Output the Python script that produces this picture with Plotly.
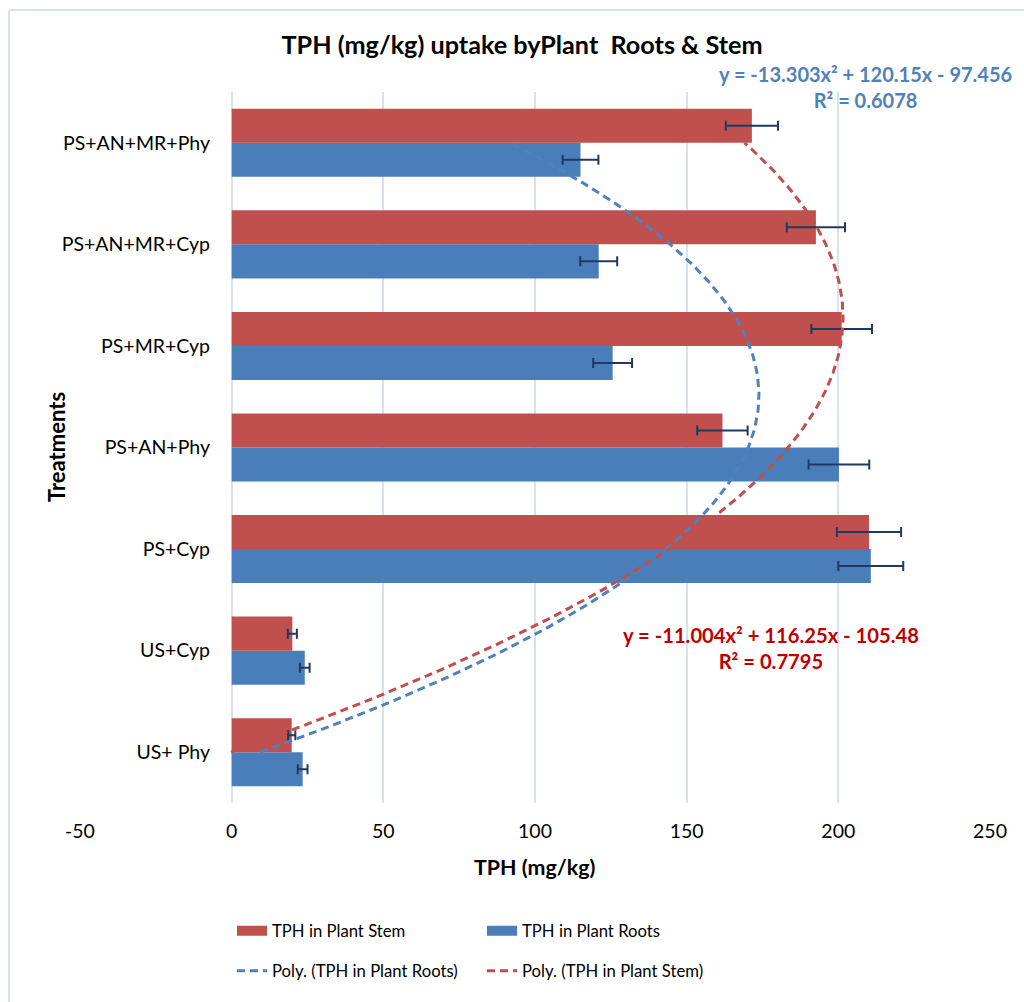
import numpy as np
import plotly.graph_objects as go

# ---------------- data ----------------
categories = ["US+ Phy", "US+Cyp", "PS+Cyp", "PS+AN+Phy", "PS+MR+Cyp", "PS+AN+MR+Cyp", "PS+AN+MR+Phy"]
stem_values = [19.8, 20.0, 210.1, 161.8, 201.1, 192.6, 171.5]
roots_values = [23.4, 24.1, 210.7, 200.2, 125.6, 121.0, 115.0]
stem_errors = [1.2, 1.5, 10.6, 8.3, 10.0, 9.6, 8.6]
roots_errors = [1.6, 1.6, 10.7, 10.0, 6.4, 6.1, 5.9]

# Excel polynomial trendline coefficients (a, b, c) shown on the chart
roots_poly = [-13.303, 120.15, -97.456]
stem_poly = [-11.004, 116.25, -105.48]
roots_r2 = "0.6078"
stem_r2 = "0.7795"

x_ticks = [-50, 0, 50, 100, 150, 200, 250]

# ---------------- style ----------------
FONT = "Lato"
RED = "#C0504D"
BLUE = "#4A7EBB"
ERR = "#1F3864"
GRID = "#D9E3F0"

pos = list(range(1, len(categories) + 1))

fig = go.Figure()

fig.add_trace(go.Bar(
    y=pos, x=roots_values, orientation="h", name="TPH in Plant Roots",
    marker=dict(color=BLUE, line=dict(width=0)), showlegend=False,
    error_x=dict(type="data", array=roots_errors, color=ERR, thickness=2, width=5),
))
fig.add_trace(go.Bar(
    y=pos, x=stem_values, orientation="h", name="TPH in Plant Stem",
    marker=dict(color=RED, line=dict(width=0)), showlegend=False,
    error_x=dict(type="data", array=stem_errors, color=ERR, thickness=2, width=5),
))

# trendlines over category index 1..7
t = np.linspace(1, len(categories), 200)
roots_fit = np.polyval(roots_poly, t)
stem_fit = np.polyval(stem_poly, t)

# legend entries row 1 (bar swatches)
fig.add_trace(go.Scatter(x=[None], y=[None], mode="lines", name="TPH in Plant Stem",
                         line=dict(color=RED, width=10), legend="legend", legendrank=1))
fig.add_trace(go.Scatter(x=[None], y=[None], mode="lines", name="TPH in Plant Roots",
                         line=dict(color=BLUE, width=10), legend="legend", legendrank=2))

fig.add_trace(go.Scatter(x=roots_fit, y=t, mode="lines", name="Poly. (TPH in Plant Roots)",
                         line=dict(color="#4F81BD", width=3, dash="8px,5px"),
                         legend="legend2", legendrank=1, hoverinfo="skip"))
fig.add_trace(go.Scatter(x=stem_fit, y=t, mode="lines", name="Poly. (TPH in Plant Stem)",
                         line=dict(color=RED, width=3, dash="8px,5px"),
                         legend="legend2", legendrank=2, hoverinfo="skip"))

L, R, T, B = 80, 34, 92, 199
W, H = 1024, 1002
pw = W - L - R
ph = H - T - B

def px_x(px):
    return (px - L) / pw

def px_y(py):
    return (H - B - py) / ph

legend_common = dict(orientation="h", xanchor="left", yanchor="middle",
                     font=dict(family=FONT, size=16.7, color="#000000"),
                     entrywidth=205, bgcolor="rgba(0,0,0,0)", tracegroupgap=0)

def ann(text, x, y, size, color="#000000", angle=0):
    return dict(text=text, x=px_x(x), y=px_y(y), xref="paper", yref="paper",
                xanchor="center", yanchor="middle", showarrow=False, align="center",
                textangle=angle, font=dict(family=FONT, size=size, color=color))

fig.update_layout(
    width=W, height=H,
    margin=dict(l=L, r=R, t=T, b=B),
    paper_bgcolor="white", plot_bgcolor="white",
    barmode="group", bargap=0.33, bargroupgap=0,
    font=dict(family=FONT, size=16, color="#000000"),
    title=dict(text="<b>TPH (mg/kg) uptake byPlant&nbsp; Roots &amp; Stem</b>",
               x=px_x(522), xref="paper", xanchor="center",
               y=1 - 45 / H, yref="container", yanchor="middle",
               font=dict(family=FONT, size=25.2, color="#000000")),
    xaxis=dict(range=[-50, 250], tickvals=x_ticks, ticktext=[str(v) for v in x_ticks],
               showgrid=True, gridcolor=GRID, gridwidth=2, zeroline=False,
               showline=False, ticks="", ticklabelstandoff=14,
               tickfont=dict(family=FONT, size=19.5, color="#000000")),
    yaxis=dict(range=[0.5, len(categories) + 0.5], tickvals=pos, ticktext=categories,
               showgrid=False, zeroline=False, showline=False, ticks="",
               anchor="free", position=px_x(232), ticklabelstandoff=22,
               tickfont=dict(family=FONT, size=19.5, color="#000000")),
    legend=dict(x=px_x(232), y=px_y(931), **legend_common),
    legend2=dict(x=px_x(232), y=px_y(971), **legend_common),
    annotations=[
        ann("<b>TPH (mg/kg)</b>", 534, 867, 21.4),
        ann("<b>Treatments</b>", 56, 447, 22, angle=-90),
        ann("<b>y = %gx² + %gx - %g<br>R² = %s</b>" % (roots_poly[0], roots_poly[1], -roots_poly[2], roots_r2),
            865, 87, 20, "#4F81BD"),
        ann("<b>y = %gx² + %gx - %g<br>R² = %s</b>" % (stem_poly[0], stem_poly[1], -stem_poly[2], stem_r2),
            771, 648, 20.2, "#C00000"),
    ],
    shapes=[
        dict(type="line", xref="paper", yref="paper", x0=px_x(9), x1=px_x(1040), y0=px_y(10), y1=px_y(10),
             line=dict(color=GRID, width=2)),
        dict(type="line", xref="paper", yref="paper", x0=px_x(9), x1=px_x(9), y0=px_y(10), y1=px_y(1020),
             line=dict(color=GRID, width=2)),
    ],
)

fig.write_html("out.html", config={"displayModeBar": False},
               post_script="document.body.style.margin='0px';")
